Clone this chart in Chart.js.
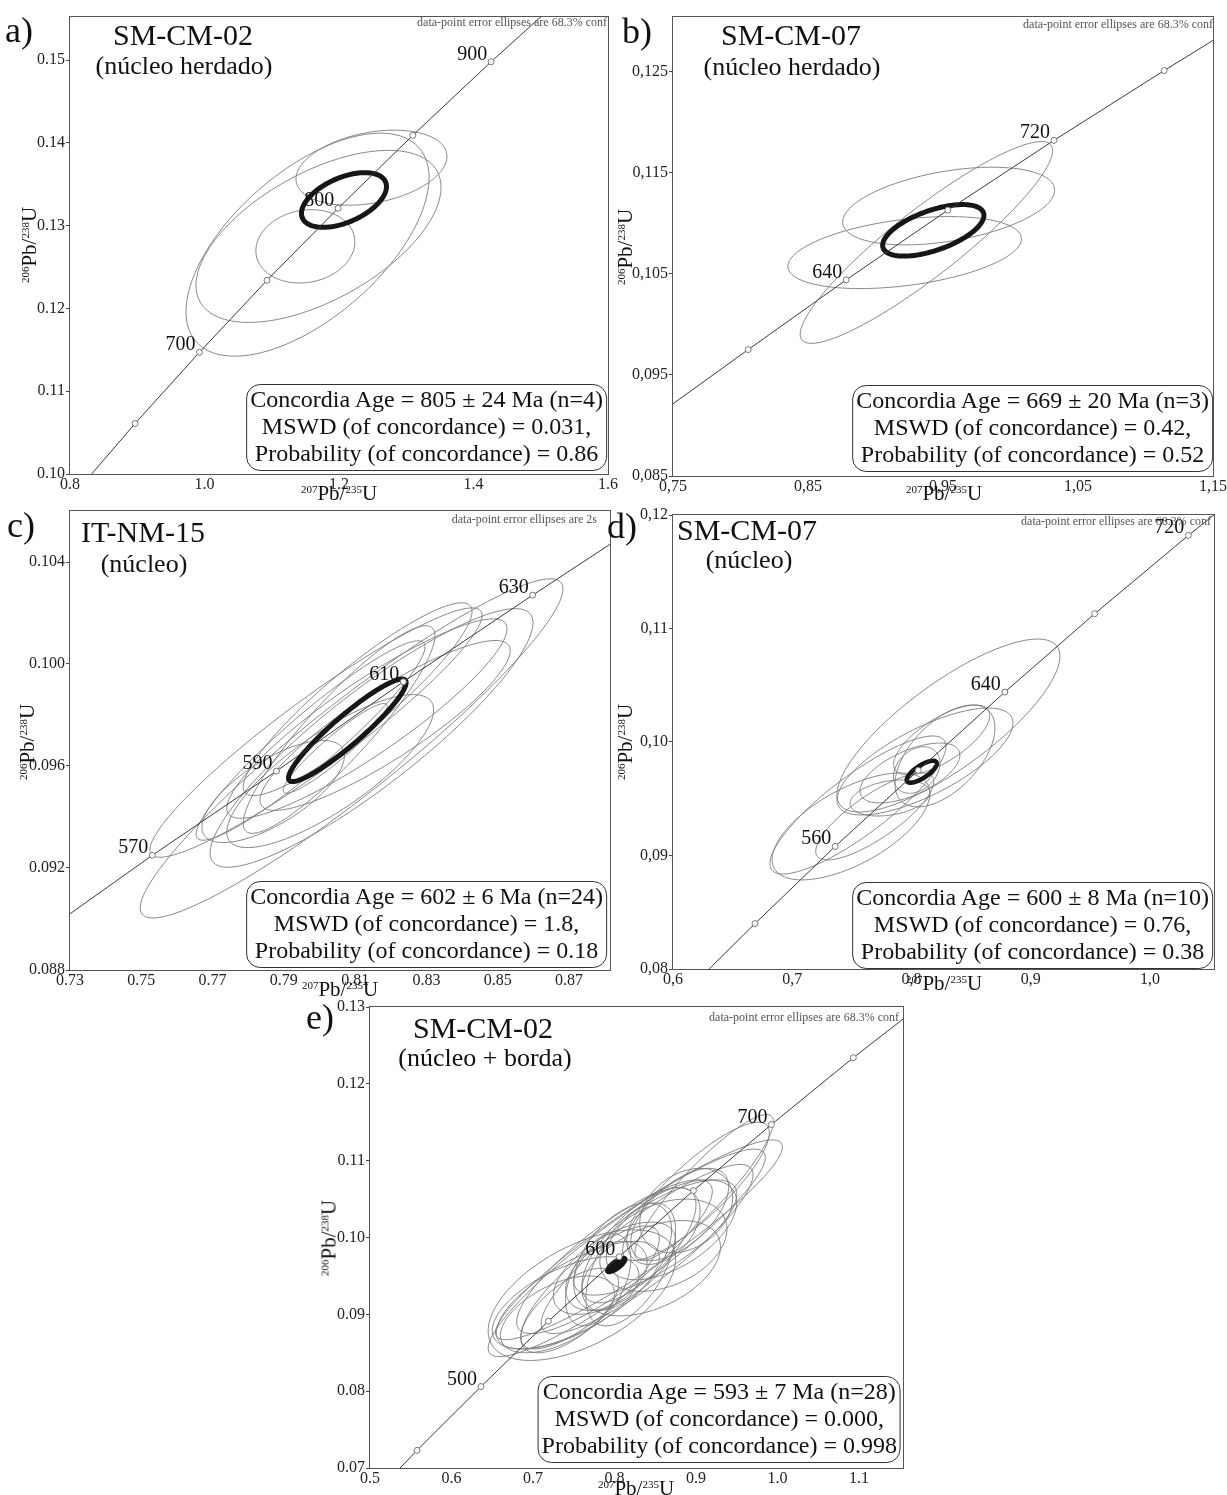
<!DOCTYPE html>
<html>
<head>
<meta charset="utf-8">
<title>Concordia diagrams</title>
<script src="https://cdn.jsdelivr.net/npm/chart.js@4.4.1/dist/chart.umd.min.js"></script>
<style>
  html, body { margin: 0; padding: 0; background: #fff; }
  #page { position: relative; width: 1227px; height: 1495px; overflow: hidden;
          font-family: 'Liberation Serif', 'Times New Roman', serif; color: #111; }
  canvas { position: absolute; }
  .txt { position: absolute; white-space: nowrap; line-height: 1; }
  .letter { font-size: 36px; }
  .title { font-size: 30px; transform: translateX(-50%); }
  .sub { font-size: 26px; transform: translateX(-50%); }
  .note { font-size: 12px; color: #555; transform: translateX(-100%); }
  .xt { font-size: 21px; transform: translate(-50%, -50%); }
  .yt { font-size: 21px; transform: translate(-50%, -50%) rotate(-90deg); }
  .xt sup, .yt sup { font-size: 11px; vertical-align: 7px; line-height: 0; }
  .stat { position: absolute; border: 1px solid #333; border-radius: 14px; text-align: center;
          font-size: 24px; line-height: 27px; padding: 1px 3px 3px; white-space: nowrap;
          transform: translateX(-100%); }
</style>
</head>
<body>
<div id="page">
  <div class="txt letter" style="left:5px;top:12px">a)</div>
  <div class="txt title" style="left:183px;top:20px">SM-CM-02</div>
  <div class="txt sub" style="left:184px;top:53px">(núcleo herdado)</div>
  <div class="txt note" style="left:607px;top:16px">data-point error ellipses are 68.3% conf</div>
  <div class="txt xt" style="left:339px;top:493px"><sup>207</sup>Pb/<sup>235</sup>U</div>
  <div class="txt yt" style="left:29px;top:245px"><sup>206</sup>Pb/<sup>238</sup>U</div>
  <div class="stat" style="left:607px;top:384px">Concordia Age = 805 ± 24 Ma (n=4)<br>MSWD (of concordance) = 0.031,<br>Probability (of concordance) = 0.86</div>

  <div class="txt letter" style="left:622px;top:13px">b)</div>
  <div class="txt title" style="left:791px;top:20px">SM-CM-07</div>
  <div class="txt sub" style="left:792px;top:54px">(núcleo herdado)</div>
  <div class="txt note" style="left:1213px;top:18px">data-point error ellipses are 68.3% conf</div>
  <div class="txt xt" style="left:944px;top:493px"><sup>207</sup>Pb/<sup>235</sup>U</div>
  <div class="txt yt" style="left:625px;top:247px"><sup>206</sup>Pb/<sup>238</sup>U</div>
  <div class="stat" style="left:1213px;top:385px">Concordia Age = 669 ± 20 Ma (n=3)<br>MSWD (of concordance) = 0.42,<br>Probability (of concordance) = 0.52</div>

  <div class="txt letter" style="left:7px;top:507px">c)</div>
  <div class="txt title" style="left:143px;top:517px">IT-NM-15</div>
  <div class="txt sub" style="left:144px;top:551px">(núcleo)</div>
  <div class="txt note" style="left:597px;top:513px">data-point error ellipses are 2s</div>
  <div class="txt xt" style="left:340px;top:989px"><sup>207</sup>Pb/<sup>235</sup>U</div>
  <div class="txt yt" style="left:27px;top:742px"><sup>206</sup>Pb/<sup>238</sup>U</div>
  <div class="stat" style="left:607px;top:881px">Concordia Age = 602 ± 6 Ma (n=24)<br>MSWD (of concordance) = 1.8,<br>Probability (of concordance) = 0.18</div>

  <div class="txt letter" style="left:607px;top:508px">d)</div>
  <div class="txt title" style="left:747px;top:515px">SM-CM-07</div>
  <div class="txt sub" style="left:749px;top:547px">(núcleo)</div>
  <div class="txt note" style="left:1211px;top:515px">data-point error ellipses are 68.3% conf</div>
  <div class="txt xt" style="left:944px;top:983px"><sup>207</sup>Pb/<sup>235</sup>U</div>
  <div class="txt yt" style="left:625px;top:742px"><sup>206</sup>Pb/<sup>238</sup>U</div>
  <div class="stat" style="left:1213px;top:882px">Concordia Age = 600 ± 8 Ma (n=10)<br>MSWD (of concordance) = 0.76,<br>Probability (of concordance) = 0.38</div>

  <div class="txt letter" style="left:306px;top:999px">e)</div>
  <div class="txt title" style="left:483px;top:1013px">SM-CM-02</div>
  <div class="txt sub" style="left:485px;top:1045px">(núcleo + borda)</div>
  <div class="txt note" style="left:899px;top:1011px">data-point error ellipses are 68.3% conf</div>
  <div class="txt xt" style="left:636px;top:1488px"><sup>207</sup>Pb/<sup>235</sup>U</div>
  <div class="txt yt" style="left:329px;top:1238px"><sup>206</sup>Pb/<sup>238</sup>U</div>
  <div class="stat" style="left:901px;top:1376px">Concordia Age = 593 ± 7 Ma (n=28)<br>MSWD (of concordance) = 0.000,<br>Probability (of concordance) = 0.998</div>
</div>

<script>
// ---- a) SM-CM-02 (núcleo herdado)
const aXTicks = [0.8, 1.0, 1.2, 1.4, 1.6];
const aXLabels = ['0.8', '1.0', '1.2', '1.4', '1.6'];
const aYTicks = [0.10, 0.11, 0.12, 0.13, 0.14, 0.15];
const aYLabels = ['0.10', '0.11', '0.12', '0.13', '0.14', '0.15'];
const aAges = [600, 650, 700, 750, 800, 850, 900, 950];
const aConcX = [0.8057, 0.8968, 0.9925, 1.0930, 1.1987, 1.3097, 1.4263, 1.5488];
const aConcY = [0.0975, 0.1061, 0.1147, 0.1234, 0.1321, 0.1409, 0.1498, 0.1588];
const aLabelled = [700, 800, 900];
// ellipses: [centre 207/235, centre 206/238, half-width x, half-width y, rho]
const aEllipses = [
  [1.2483, 0.1370, 0.1123, 0.00453, 0.30],
  [1.1695, 0.1287, 0.1822, 0.01039, 0.57],
  [1.1532, 0.1277, 0.1807, 0.01347, 0.60],
  [1.1500, 0.1275, 0.0736, 0.00443, 0.12]
];
const aAge = [1.2074, 0.1331, 0.0632, 0.0033, 0.49];

// ---- b) SM-CM-07 (núcleo herdado)
const bXTicks = [0.75, 0.85, 0.95, 1.05, 1.15];
const bXLabels = ['0,75', '0,85', '0,95', '1,05', '1,15'];
const bYTicks = [0.085, 0.095, 0.105, 0.115, 0.125];
const bYLabels = ['0,085', '0,095', '0,105', '0,115', '0,125'];
const bAges = [560, 600, 640, 680, 720, 760, 800];
const bConcX = [0.7360, 0.8057, 0.8783, 0.9536, 1.0322, 1.1138, 1.1987];
const bConcY = [0.0908, 0.0975, 0.1044, 0.1113, 0.1182, 0.1251, 0.1321];
const bLabelled = [640, 720];
const bEllipses = [
  [0.9542, 0.1117, 0.0785, 0.00384, 0.41],
  [0.9216, 0.1071, 0.0865, 0.00356, 0.38],
  [0.9377, 0.1081, 0.0935, 0.00998, 0.91]
];
const bAge = [0.9428, 0.1093, 0.0375, 0.00255, 0.58];

// ---- c) IT-NM-15 (núcleo)
const cXTicks = [0.73, 0.75, 0.77, 0.79, 0.81, 0.83, 0.85, 0.87];
const cXLabels = ['0.73', '0.75', '0.77', '0.79', '0.81', '0.83', '0.85', '0.87'];
const cYTicks = [0.088, 0.092, 0.096, 0.100, 0.104];
const cYLabels = ['0.088', '0.092', '0.096', '0.100', '0.104'];
const cAges = [550, 570, 590, 610, 630, 650];
const cConcX = [0.7189, 0.7531, 0.7879, 0.8235, 0.8598, 0.8968];
const cConcY = [0.0891, 0.0925, 0.0958, 0.0993, 0.1027, 0.1061];
const cLabelled = [570, 590, 610, 630];
const cEllipses = [
  [0.8090, 0.09669, 0.0593, 0.00665, 0.94],
  [0.7990, 0.09731, 0.0466, 0.00489, 0.94],
  [0.8146, 0.09710, 0.0453, 0.00507, 0.89],
  [0.8133, 0.09786, 0.0393, 0.00391, 0.90],
  [0.8107, 0.09862, 0.0321, 0.00378, 0.91],
  [0.8055, 0.09743, 0.0269, 0.00407, 0.905],
  [0.8044, 0.09669, 0.0146, 0.00176, 0.935],
  [0.8184, 0.09759, 0.0351, 0.00333, 0.88],
  [0.7975, 0.09700, 0.0321, 0.00391, 0.94],
  [0.8030, 0.09580, 0.0290, 0.00300, 0.80],
  [0.7870, 0.09500, 0.0200, 0.00200, 0.70]
];
const cAge = [0.8078, 0.09740, 0.0165, 0.00201, 0.93];

// ---- d) SM-CM-07 (núcleo)
const dXTicks = [0.6, 0.7, 0.8, 0.9, 1.0];
const dXLabels = ['0,6', '0,7', '0,8', '0,9', '1,0'];
const dYTicks = [0.08, 0.09, 0.10, 0.11, 0.12];
const dYLabels = ['0,08', '0,09', '0,10', '0,11', '0,12'];
const dAges = [480, 520, 560, 600, 640, 680, 720, 760];
const dConcX = [0.6043, 0.6688, 0.7360, 0.8057, 0.8783, 0.9536, 1.0322, 1.1138];
const dConcY = [0.0773, 0.0840, 0.0908, 0.0975, 0.1044, 0.1113, 0.1182, 0.1251];
const dLabelled = [560, 640, 720];
const dEllipses = [
  [0.8310, 0.10145, 0.0935, 0.00762, 0.80],
  [0.8113, 0.09828, 0.0738, 0.00471, 0.72],
  [0.8281, 0.09877, 0.0419, 0.00449, 0.55],
  [0.7493, 0.09256, 0.0662, 0.00471, 0.62],
  [0.7692, 0.09344, 0.0495, 0.00383, 0.80],
  [0.8253, 0.10018, 0.0403, 0.00308, 0.70],
  [0.7987, 0.09727, 0.0419, 0.00264, 0.60],
  [0.7820, 0.09507, 0.0335, 0.00159, 0.30],
  [0.8044, 0.09753, 0.0195, 0.00205, 0.30],
  [0.7551, 0.09445, 0.0738, 0.00608, 0.85]
];
const dAge = [0.8086, 0.09738, 0.0126, 0.00097, 0.75];

// ---- e) SM-CM-02 (núcleo + borda)
const eXTicks = [0.5, 0.6, 0.7, 0.8, 0.9, 1.0, 1.1];
const eXLabels = ['0.5', '0.6', '0.7', '0.8', '0.9', '1.0', '1.1'];
const eYTicks = [0.07, 0.08, 0.09, 0.10, 0.11, 0.12, 0.13];
const eYLabels = ['0.07', '0.08', '0.09', '0.10', '0.11', '0.12', '0.13'];
const eAges = [400, 450, 500, 550, 600, 650, 700, 750, 800];
const eConcX = [0.4828, 0.5577, 0.6362, 0.7189, 0.8057, 0.8968, 0.9925, 1.0930, 1.1987];
const eConcY = [0.0640, 0.0723, 0.0806, 0.0891, 0.0975, 0.1061, 0.1147, 0.1234, 0.1321];
const eLabelled = [500, 600, 700];
const eEllipses = [
  [0.830, 0.0997, 0.176, 0.0130, 0.93],
  [0.815, 0.0980, 0.170, 0.0135, 0.92],
  [0.800, 0.0975, 0.120, 0.0100, 0.85],
  [0.740, 0.0915, 0.090, 0.0060, 0.60],
  [0.755, 0.0925, 0.100, 0.0070, 0.70],
  [0.730, 0.0900, 0.070, 0.0050, 0.55],
  [0.770, 0.0935, 0.085, 0.0080, 0.80],
  [0.745, 0.0905, 0.060, 0.0055, 0.65],
  [0.760, 0.0925, 0.115, 0.0085, 0.55],
  [0.800, 0.0960, 0.075, 0.0060, 0.60],
  [0.810, 0.0975, 0.060, 0.0070, 0.50],
  [0.790, 0.0950, 0.050, 0.0045, 0.40],
  [0.820, 0.0965, 0.055, 0.0080, 0.55],
  [0.780, 0.0945, 0.040, 0.0060, 0.45],
  [0.830, 0.0990, 0.070, 0.0075, 0.70],
  [0.860, 0.1015, 0.045, 0.0050, 0.40],
  [0.880, 0.1030, 0.060, 0.0060, 0.60],
  [0.850, 0.1000, 0.100, 0.0075, 0.75],
  [0.870, 0.1010, 0.080, 0.0065, 0.55],
  [0.900, 0.1060, 0.090, 0.0090, 0.85],
  [0.840, 0.0985, 0.130, 0.0110, 0.88],
  [0.910, 0.1065, 0.085, 0.0095, 0.90],
  [0.860, 0.0990, 0.078, 0.0060, 0.35],
  [0.845, 0.0960, 0.085, 0.0062, 0.45],
  [0.888, 0.1035, 0.057, 0.0055, 0.30]
];
const eAge = [0.8022, 0.09642, 0.0119, 0.0010, 0.75];

const PAD_L = 80, PAD_T = 12, PAD_R = 14, PAD_B = 36;
const serif = "'Liberation Serif', 'Times New Roman', serif";

// trace an error ellipse in data space and map every point through the scales
function traceEllipse(ctx, xs, ys, e) {
  const [cx, cy, sx, sy, rho] = e;
  const k = Math.sqrt(1 - rho * rho);
  ctx.beginPath();
  for (let i = 0; i <= 144; i++) {
    const t = i / 144 * Math.PI * 2;
    const px = xs.getPixelForValue(cx + sx * Math.cos(t));
    const py = ys.getPixelForValue(cy + sy * (rho * Math.cos(t) + k * Math.sin(t)));
    if (i === 0) ctx.moveTo(px, py); else ctx.lineTo(px, py);
  }
  ctx.closePath();
}

function concordiaPlugin(p) {
  return {
    id: 'concordia',
    beforeDatasetsDraw(chart) {
      const { ctx, chartArea: a, scales: { x, y } } = chart;
      ctx.save();
      ctx.beginPath();
      ctx.rect(a.left, a.top, a.right - a.left, a.bottom - a.top);
      ctx.clip();
      ctx.strokeStyle = '#7a7a7a';
      ctx.lineWidth = 0.9;
      p.ellipses.forEach(e => { traceEllipse(ctx, x, y, e); ctx.stroke(); });
      traceEllipse(ctx, x, y, p.age);
      ctx.strokeStyle = '#161616';
      ctx.lineWidth = p.ageWidth;
      if (p.ageFill) { ctx.fillStyle = '#161616'; ctx.fill(); }
      ctx.stroke();
      ctx.restore();
    },
    afterDatasetsDraw(chart) {
      const { ctx, chartArea: a, scales: { x, y } } = chart;
      ctx.save();
      ctx.font = '20px ' + serif;
      ctx.fillStyle = '#111';
      ctx.textAlign = 'right';
      ctx.textBaseline = 'alphabetic';
      p.labelled.forEach(age => {
        const i = p.ages.indexOf(age);
        ctx.fillText(String(age), x.getPixelForValue(p.cx[i]) - 4, y.getPixelForValue(p.cy[i]) - 2);
      });
      ctx.strokeStyle = '#555';
      ctx.lineWidth = 1;
      ctx.strokeRect(a.left - 0.5, a.top - 0.5, a.right - a.left + 1, a.bottom - a.top + 1);
      ctx.restore();
    }
  };
}

function makePanel(p) {
  const box = p.box;
  const cv = document.createElement('canvas');
  cv.width = box[2] - box[0] + PAD_L + PAD_R;
  cv.height = box[3] - box[1] + PAD_T + PAD_B;
  cv.style.left = (box[0] - PAD_L) + 'px';
  cv.style.top = (box[1] - PAD_T) + 'px';
  const page = document.getElementById('page');
  page.insertBefore(cv, page.firstChild);

  const tickFont = { family: serif, size: 16 };
  return new Chart(cv, {
    type: 'scatter',
    data: {
      datasets: [{
        data: p.ages.map((a, i) => ({ x: p.cx[i], y: p.cy[i] })),
        showLine: true,
        borderColor: '#3a3a3a',
        borderWidth: 1,
        pointRadius: 3,
        pointBackgroundColor: '#fff',
        pointBorderColor: '#777',
        pointBorderWidth: 1
      }]
    },
    options: {
      responsive: false,
      animation: false,
      devicePixelRatio: 1,
      events: [],
      layout: { padding: { left: 0, top: PAD_T, right: PAD_R, bottom: 0 } },
      plugins: { legend: { display: false }, tooltip: { enabled: false } },
      scales: {
        x: {
          type: 'linear', min: p.xRange[0], max: p.xRange[1],
          afterFit: s => { s.height = PAD_B; },
          afterBuildTicks: s => { s.ticks = p.xTicks.map(v => ({ value: v })); },
          ticks: { callback: (v, i) => p.xLabels[i], autoSkip: false, maxRotation: 0, minRotation: 0,
                   padding: 1, font: tickFont, color: '#222' },
          grid: { display: false, drawTicks: false },
          border: { display: false }
        },
        y: {
          type: 'linear', min: p.yRange[0], max: p.yRange[1],
          afterFit: s => { s.width = PAD_L; },
          afterBuildTicks: s => { s.ticks = p.yTicks.map(v => ({ value: v })); },
          ticks: { callback: (v, i) => p.yLabels[i], autoSkip: false, padding: 1, font: tickFont, color: '#222' },
          grid: { display: true, drawOnChartArea: false, drawTicks: true, tickLength: 4, color: '#444' },
          border: { display: false }
        }
      }
    },
    plugins: [concordiaPlugin(p)]
  });
}

makePanel({ box: [70, 17, 608, 474], xRange: [0.8, 1.6], yRange: [0.10, 0.1552],
  xTicks: aXTicks, xLabels: aXLabels, yTicks: aYTicks, yLabels: aYLabels,
  ages: aAges, cx: aConcX, cy: aConcY, labelled: aLabelled,
  ellipses: aEllipses, age: aAge, ageWidth: 5 });

makePanel({ box: [673, 17, 1214, 476], xRange: [0.75, 1.15], yRange: [0.085, 0.1304],
  xTicks: bXTicks, xLabels: bXLabels, yTicks: bYTicks, yLabels: bYLabels,
  ages: bAges, cx: bConcX, cy: bConcY, labelled: bLabelled,
  ellipses: bEllipses, age: bAge, ageWidth: 5 });

makePanel({ box: [70, 511, 610, 970], xRange: [0.73, 0.8815], yRange: [0.088, 0.1060],
  xTicks: cXTicks, xLabels: cXLabels, yTicks: cYTicks, yLabels: cYLabels,
  ages: cAges, cx: cConcX, cy: cConcY, labelled: cLabelled,
  ellipses: cEllipses, age: cAge, ageWidth: 5 });

makePanel({ box: [673, 515, 1214, 969], xRange: [0.6, 1.0537], yRange: [0.08, 0.12],
  xTicks: dXTicks, xLabels: dXLabels, yTicks: dYTicks, yLabels: dYLabels,
  ages: dAges, cx: dConcX, cy: dConcY, labelled: dLabelled,
  ellipses: dEllipses, age: dAge, ageWidth: 4.5 });

makePanel({ box: [370, 1007, 903, 1468], xRange: [0.5, 1.154], yRange: [0.07, 0.13],
  xTicks: eXTicks, xLabels: eXLabels, yTicks: eYTicks, yLabels: eYLabels,
  ages: eAges, cx: eConcX, cy: eConcY, labelled: eLabelled,
  ellipses: eEllipses, age: eAge, ageWidth: 3, ageFill: true });
</script>
</body>
</html>
